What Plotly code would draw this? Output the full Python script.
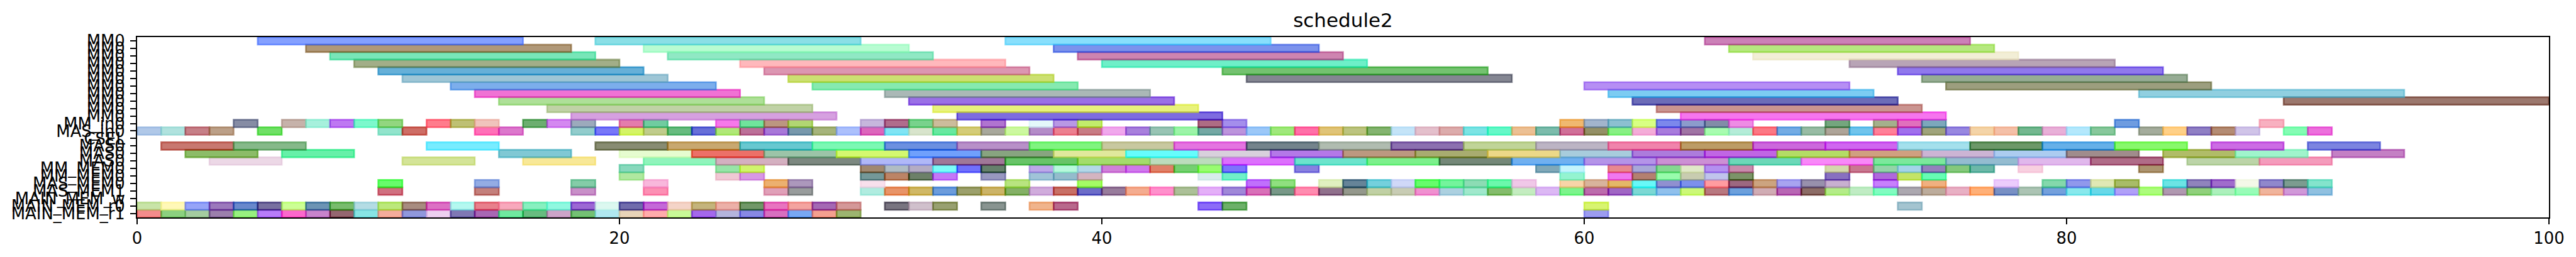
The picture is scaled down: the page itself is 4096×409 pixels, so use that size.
import plotly.graph_objects as go

W, H = 4096, 409

row_labels = ["MM0"] * 11 + ["MM_in0", "MAS_in0", "CSEL", "MAS0", "MAS0", "MAS0", "MM_MEM0", "MM_MEM0",
                            "MAS_MEM0", "MAS_MEM1", "MAIN_MEM_w", "MAIN_MEM_r0", "MAIN_MEM_r1"]
x_ticks = [0, 20, 40, 60, 80, 100]
title_text = "schedule2"

# task lengths per row group
len_mm = 11
len_mas = 3
len_unit = 1

# start times by row (row 0 is the top row)
s00 = [5, 19, 36, 65]
s01 = [7, 21, 38, 66]
s02 = [8, 22, 39, 67]
s03 = [9, 25, 40, 71]
s04 = [10, 26, 45, 73]
s05 = [11, 27, 46, 74]
s06 = [13, 28, 60, 75]
s07 = [14, 31, 61, 83]
s08 = [15, 32, 62, 89]
s09 = [17, 33, 63]
s10 = [18, 34, 64]
s11 = [4, 6, 7, 8, 9, 10, 12, 13, 14, 16, 17, 18, 20, 21, 24, 25, 26, 27, 30, 31, 32, 33, 35, 37, 38, 39, 44, 45,
       59, 60, 61, 62, 63, 64, 65, 66, 70, 72, 73, 74, 82, 88]
s12 = [0, 1, 2, 3, 5, 10, 11, 14, 15, 18, 19, 20, 21, 22, 23, 24, 25, 26, 27, 28, 29, 30, 31, 32, 33, 34, 35, 36,
       37, 38, 39, 40, 41, 42, 43, 44, 45, 46, 47, 48, 49, 50, 51, 52, 53, 54, 55, 56, 57, 58, 59, 60, 61, 62, 63,
       64, 65, 66, 67, 68, 69, 70, 71, 72, 73, 74, 75, 76, 77, 78, 79, 80, 81, 83, 84, 85, 86, 87, 89, 90]
s14 = [1, 4, 12, 19, 22, 25, 28, 31, 34, 37, 40, 43, 46, 49, 52, 55, 58, 61, 64, 67, 70, 73, 76, 79, 82, 86, 90]
s15 = [2, 6, 15, 20, 23, 26, 29, 32, 35, 38, 41, 44, 47, 50, 53, 56, 59, 62, 65, 68, 71, 74, 77, 80, 84, 87, 91]
s16 = [3, 11, 16, 21, 24, 27, 30, 33, 36, 39, 42, 45, 48, 51, 54, 57, 60, 63, 66, 69, 72, 75, 78, 81, 85, 88]
s17 = [20, 24, 25, 30, 31, 32, 33, 34, 35, 37, 38, 39, 40, 41, 42, 43, 44, 45, 48, 58, 59, 61, 62, 63, 64, 65, 66,
       70, 71, 72, 73, 74, 75, 76, 78, 83]
s18 = [20, 24, 25, 30, 31, 32, 33, 35, 37, 38, 39, 44, 45, 59, 61, 62, 63, 64, 65, 66, 70, 72, 73, 74]
s19 = [10, 14, 18, 21, 26, 27, 30, 36, 39, 46, 47, 49, 50, 51, 52, 53, 54, 55, 56, 57, 59, 60, 61, 62, 63, 64, 65,
       66, 67, 68, 69, 70, 72, 74, 77, 79, 80, 81, 82, 84, 85, 86, 87, 88, 89, 90]
s20 = [10, 14, 18, 21, 26, 27, 30, 31, 32, 33, 34, 35, 36, 37, 38, 39, 40, 41, 42, 43, 44, 45, 46, 47, 48, 49, 50,
       51, 52, 53, 54, 55, 56, 57, 58, 59, 60, 61, 62, 63, 64, 65, 66, 67, 68, 69, 70, 71, 72, 73, 74, 75, 76, 77,
       78, 79, 80, 81, 82, 83, 84, 85, 86, 87, 88, 89, 90]
s22 = [0, 1, 2, 3, 4, 5, 6, 7, 8, 9, 10, 11, 12, 13, 14, 15, 16, 17, 18, 19, 20, 21, 22, 23, 24, 25, 26, 27, 28, 29,
       31, 32, 33, 35, 37, 38, 44, 45, 60, 73]
s23 = [0, 1, 2, 3, 4, 5, 6, 7, 8, 9, 10, 11, 12, 13, 14, 15, 16, 17, 18, 19, 20, 21, 22, 23, 24, 25, 26, 27, 28, 29, 60]

# colours of those tasks as they appear on the white background
c00 = "84A0FF 8ADFE6 88DFFC CC80B8".split()
c01 = "B09878 B8FCD2 7C92EC B6E880".split()
c02 = "78E6B8 90E8C4 CE84B0 F2EED6".split()
c03 = "A2AE88 FFB8BC 6EEFC8 B8A4B6".split()
c04 = "66B0D8 DC96B2 74C270 9078EC".split()
c05 = "9EC6D6 CCE072 848692 96AC94".split()
c06 = "7CAEEC 86EAB0 B68EF4 9C9E7E".split()
c07 = "F072D4 AAB8B6 7CCCF2 90CFE0".split()
c08 = "AEE098 9A70E6 6C6CB8 9C786E".split()
c09 = "C0D2A6 E8F27C CA9490".split()
c10 = "D6A0E0 7E6CE0 F675EE".split()
c11 = """868CA4 C6B2AA A6F0DC BE78F2 7CF8CC 92D680 FF7C8C BEC074 F0C4BC 6CAE70 D488F0 9CAABC E47CAC 70CCA0
F678EA 70E49C BC9680 B2D672 C6B6DC B06C8C 78D28C CCBC9C B074D0 E4F8FA B898E4 C2EC6C AE6C84 A48EEC
F0B870 A2B4CC 8CC0D0 D8FF84 7C88EC 8C9CCC 828CA8 EE8CE4 74A67E A4B08C E070BC 7CA8BC 6E9CE0 F8B0C0""".split()
c12 = """B0C8E8 B0E2DE C68088 BCA088 70E060 92E4CC CE6E64 FF70B8 DC78CC 92CCCC 7878F8 D4F45C C0CC8C 68BC80 6870D8
B0E878 BC7098 A878D8 7898AC A6B47C ACC0FC DC60BC 80E4F4 D8E4CC 68E8A0 D4CC78 A8A89C CCF8A0 B48CC8 EC8090
C87C84 F0A8EC A880DC 98C4B4 9CF4A8 74A8A4 BC94DC 9CC8F8 A0E87C FF70A8 E0C478 BCC480 84B470 C4E4F8 E4C0CC
DCACAC 7CE4E4 5CF8C8 ECC094 7CBCAC D07098 949060 88F084 F4ACD8 A87CDC A074A4 A8FCB0 B4ECD8 FC7884 74ACE4
98BCA4 AEA498 70C4EC FF8098 A070EC A0A47C 9888E0 F4D4A8 F4C0A8 74B890 E8B0D8 B4E8FC 88C89C A4AC9C FFD088
9080C4 B48C74 D0C4E8 84FCB4 EC70DC""".split()
c14 = """C87870 86B98A 78ECFF 888C72 C8A870 68C8D0 7CF8B4 6C90E0 B890C8 80F480 C8C8A0 E474E0 74848C B0BCB0 8C70B0
C0D498 BCB4C4 F084AC BC9C64 CC68DC D060F0 A4E0EC 6C9868 64B0E8 88F86C CC6CE4 7C84E0""".split()
c15 = """8CBC68 64F0A8 80C8D4 E6FCD0 EC7068 9CC4A8 D4F870 70A0FC 88A480 E0E89C 64FCFC D8D0DC B478E8 BC9880 A8AC70
ECD888 A8CCDC AC7CDC C064E4 B4DC5C D0A080 CCB4D4 ACCCF0 A08C8C B0BC68 A0F4CC C480C4""".split()
c16 = """ECD8E6 D4E498 F8E898 90F4BC D4B0C0 7C8880 B0B8F8 A07898 68C468 A4DC6C BCDCBC DC70FC 6CE4CC 7CF08C 748878
70B0F0 B494E8 CC90D4 6CD8B8 F888F8 7CE89C 94BCD0 E0B8EC B06C88 BCD4A8 F49CBC""".split()
c17 = """88D8BC 98E4A8 D0F46C A08870 B0BCC4 B4ACC4 7CFCF8 7070FC 64806C BCA8E8 B8F8DC B4D8E8 D080D8 D078EC E08068
74D070 98FC70 7C74FC 8880E0 80A8B8 C4F4FC E88890 A8A8D8 84D890 E0E8C8 B490F0 C88CAC D4D8AC C87890 94D4A8
A4D4E8 9480BC 84C87C 6CB8A8 F8D0E0 AC9470""".split()
c18 = """B0E8A0 F0C8D4 D898E4 749898 BC8464 6C8068 C478F8 9898C0 A0C4D8 94BCCC D4B4C0 D8ECEC 70F0C8 94F4D0 F078F0
B48070 98FCAC C8CCB0 C0C4EC 7C9468 8870C0 B068DC C4E460 60FCB4""".split()
c19 = """68FC6C 94ACE4 84CCA8 F8B8DC ECB070 AC98BC F8E0EC B8E480 A4FC60 C070FC 90E080 E0F0C0 608498 74D0DC D0D8F8
5CFC6C 74F49C 8CDCB4 6CF8AC F0C8E8 F8D4A8 D8B49C E4B868 68F8F8 9090D0 7C90EC FF9CA0 9C6880 CCA480 A8A4F0
9890AC C8B0D0 C880FC F0B080 ECCCFC 84D8AC 9098EC E0E8B4 A8BC68 6CE4E4 9084BC A06CCC F4F8E8 9088CC 7C9C90
84E4CC""".split()
c20 = """D07080 C4807C C890C8 FC90B4 E0A0B8 989C9C B0ECE0 E89468 D0B860 6C9CDC 9CA06C CCB468 84B060 D0ACDC C87060
6C6CC8 987C9C F4AC90 FF90CC ACC098 E4B0F8 A088D8 D870B8 789888 FF8CB0 90708C 94988C C0D0A4 C8CCB4 F090D0
ACD0E0 A0E8CC 84BC6C C4ECC0 DCB8F4 7CF48C BC6CAC A060C4 7CD8D4 90C0EC CCF878 B87880 6CA0DC D0ACB4 B860B4
8C6C64 B4EC88 C0ECC4 80FCC0 ACA8B0 BCAC9C E8B0C4 FFB078 7890C4 ACC4B4 74A0DC 88E8EC 68D8E8 B0A0F8 ACFC7C
B098B0 90D07C ACF0BC 98FCB8 F0B49C D098D8 90C0E0""".split()
c22 = """C8E4A8 FFF8B8 96A4F8 9C78BC 6888CC 7870A0 CCFF94 6C94B4 78BC6C B4DCE4 BCE87C A88C80 DC70C4 B4F8F0 E8808C
F8A8BC 88F0C0 90F8E0 9C68D4 DCF8F0 706CAC C468D8 F4D4C8 C4B47C ECB0A8 709868 E874C0 F4A4A0 A468B4 D49898
787480 D0C0CC 98A070 889490 F0B48C B8688C 8C6CF8 6CB068 D8F470 A4C4D0""".split()
c23 = """F48C8C 8CD080 A4CCA0 9C80AC 98F080 B87CF8 FC68CC C884CC 946070 88E4E4 F4AC9C 9098DC ECD0F0 8078B4 A868B4
70E8A0 68BC80 CCA4C8 74C074 B0E8F0 E8D4B8 FFACAC C8F898 A468EC B4B4DC 8888E4 D870C0 78A8F4 F4A090 9CB470
9C9CF0""".split()

groups = [
    (0, s00, c00, len_mm), (1, s01, c01, len_mm), (2, s02, c02, len_mm), (3, s03, c03, len_mm),
    (4, s04, c04, len_mm), (5, s05, c05, len_mm), (6, s06, c06, len_mm), (7, s07, c07, len_mm),
    (8, s08, c08, len_mm), (9, s09, c09, len_mm), (10, s10, c10, len_mm),
    (11, s11, c11, len_unit), (12, s12, c12, len_unit),
    (14, s14, c14, len_mas), (15, s15, c15, len_mas), (16, s16, c16, len_mas),
    (17, s17, c17, len_unit), (18, s18, c18, len_unit), (19, s19, c19, len_unit), (20, s20, c20, len_unit),
    (22, s22, c22, len_unit), (23, s23, c23, len_unit),
]

ALPHA = 0.6


def rgba(hex_fill):
    # undo the blend over white, so the drawn fill looks like the colour
    vals = [int(hex_fill[i:i + 2], 16) for i in (0, 2, 4)]
    base = [max(0, min(255, round((v - (1 - ALPHA) * 255) / ALPHA))) for v in vals]
    return f"rgba({base[0]},{base[1]},{base[2]},{ALPHA})"


ys, bases, lens, cols = [], [], [], []
for row, starts, colors, length in reversed(groups):
    assert len(starts) == len(colors), row
    for st, co in zip(starts, colors):
        ys.append(row)
        bases.append(st)
        lens.append(length)
        cols.append(rgba(co))

fig = go.Figure(go.Bar(
    orientation="h", y=ys, x=lens, base=bases, width=1,
    marker=dict(color=cols, line=dict(color=cols, width=2.6)),
    hoverinfo="skip",
))

axis_common = dict(showgrid=False, zeroline=False, showline=True, linecolor="black", linewidth=2, mirror=True,
                   ticks="outside", ticklen=9, tickwidth=2, tickcolor="black",
                   tickfont=dict(family="DejaVu Sans", size=25.9, color="black"))

fig.update_layout(
    width=W, height=H, paper_bgcolor="white", plot_bgcolor="white", showlegend=False, barmode="overlay",
    margin=dict(l=218, r=43, t=58.5, b=63, autoexpand=False),
    title=dict(text=title_text, x=0.5, xref="paper", xanchor="center", y=0.895, yref="container", yanchor="bottom",
               font=dict(family="DejaVu Sans", size=31, color="black")),
    xaxis=dict(range=[0, 100], tickmode="array", tickvals=x_ticks, ticktext=[str(v) for v in x_ticks], **axis_common),
    yaxis=dict(range=[23.5, -0.5], tickmode="array", tickvals=list(range(len(row_labels))), ticktext=row_labels,
               ticklabelstandoff=3, **axis_common),
)
fig.write_html("out.html", config={"displayModeBar": False},
               post_script="document.body.style.margin='0';document.body.style.overflow='hidden';")
